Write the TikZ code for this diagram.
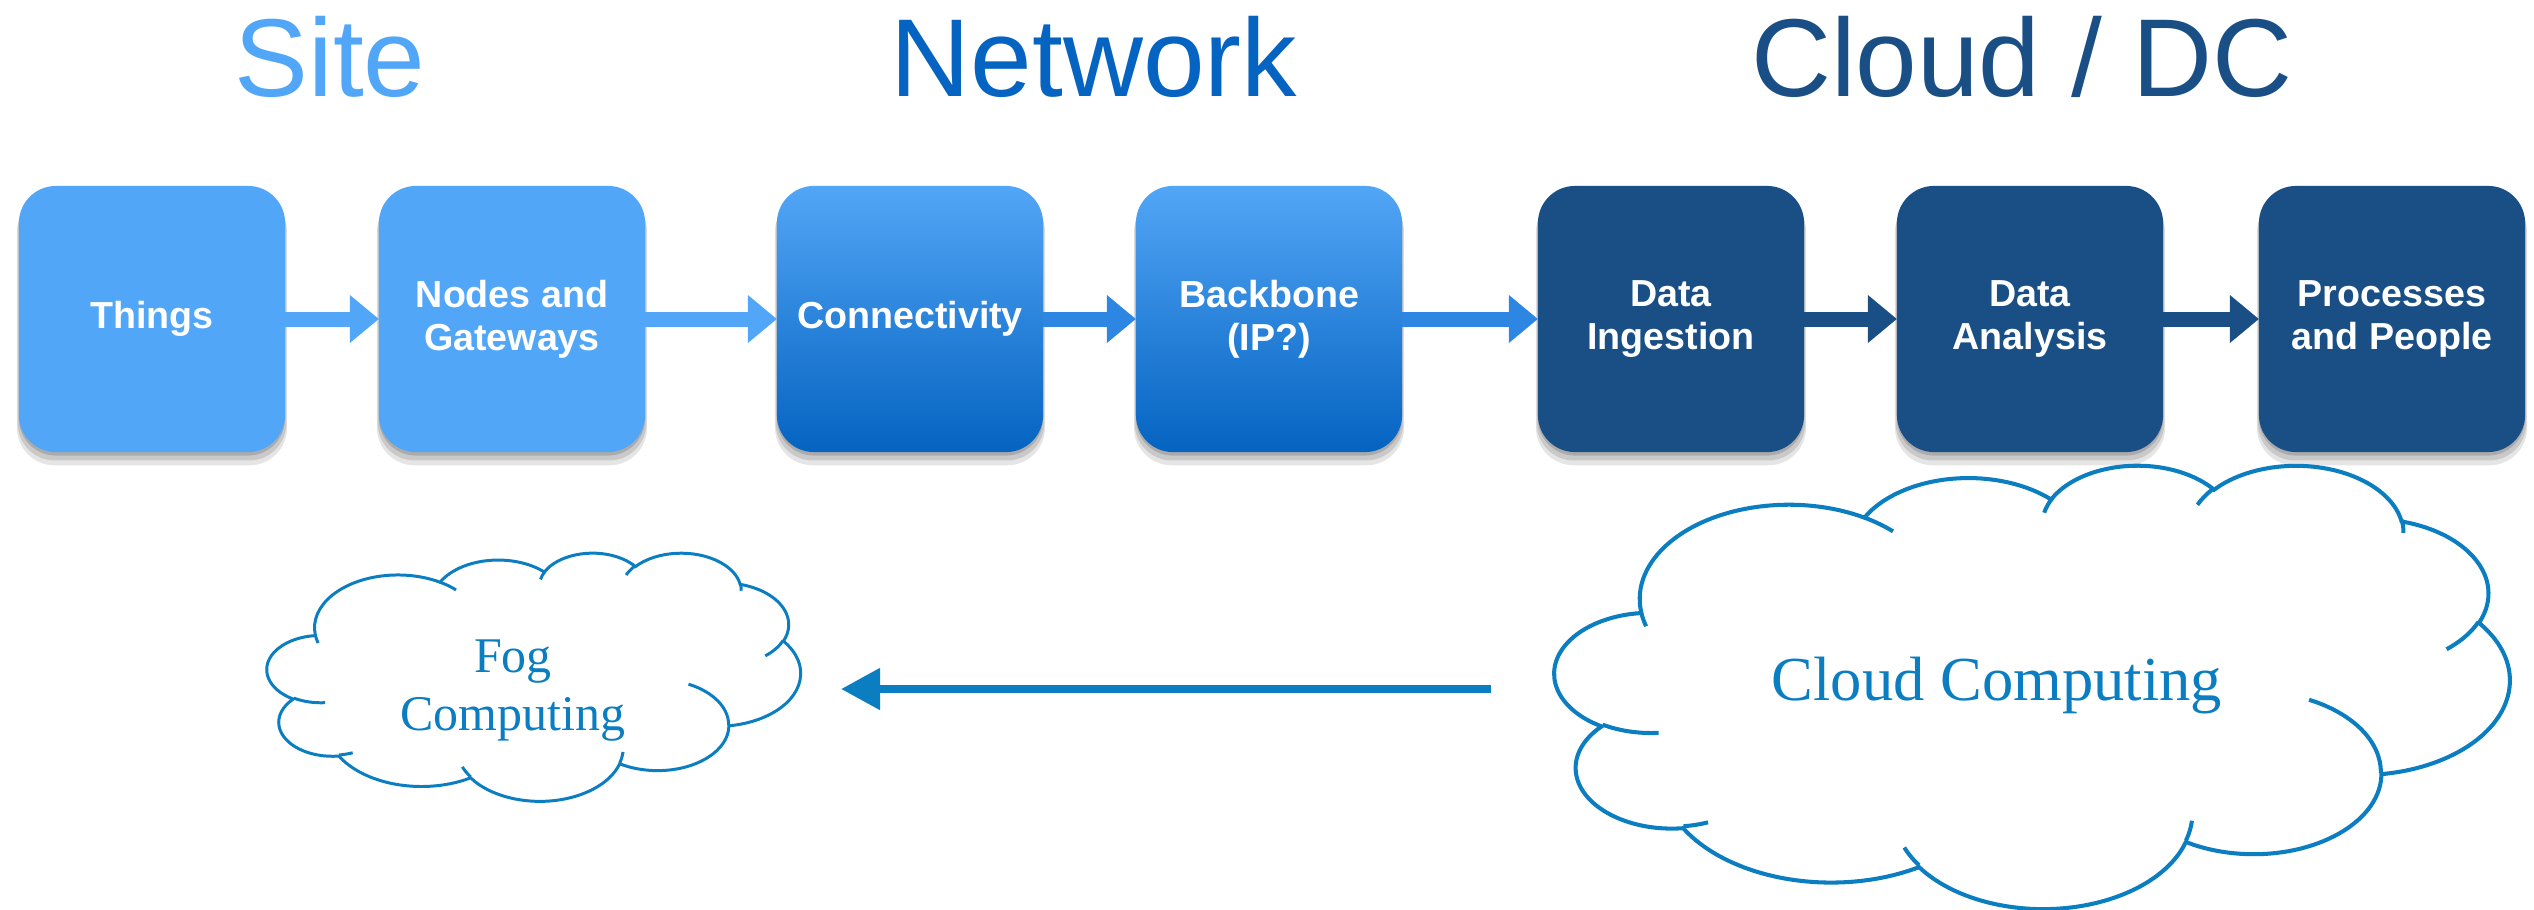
\documentclass[tikz,border=0pt]{standalone}
\usepackage{fontspec}
\setmainfont{Liberation Serif}
\newfontfamily\arialf{Liberation Sans}
\usetikzlibrary{arrows.meta,shadows}
\definecolor{siteblue}{HTML}{52A6F8}
\definecolor{netblue}{HTML}{0563C1}
\definecolor{gradtop}{HTML}{52A6F6}
\definecolor{dcblue}{HTML}{1A4F86}
\definecolor{midarrow}{HTML}{2C86E2}
\definecolor{cloudblue}{HTML}{0B7DC1}
\newcommand\cldarc[4]{%
  \pgfmathparse{atan2((#1)*sin(#3),(#2)*cos(#3))}\xdef\cldta{\pgfmathresult}%
  \pgfmathparse{atan2((#1)*sin((#3)+(#4)),(#2)*cos((#3)+(#4)))}\xdef\cldtb{\pgfmathresult}%
  \pgfmathparse{mod(\cldtb-\cldta+720,360)}\xdef\clddt{\pgfmathresult}%
}
\newcommand\cloudshape{%
  \draw (3.900,14.370)
    foreach \cw/\ch/\cs/\cd in {6.753/9.190/-190.4875/123.7805,
      5.333/7.267/-144.1024/89.9452, 4.365/5.945/-145.8079/99.7230,
      4.857/6.595/-130.9861/117.2417, 5.333/7.273/-78.7089/109.0269,
      6.775/9.220/-46.2673/130.2690, 5.785/7.867/0.6250/114.0333,
      6.752/9.215/22.4516/115.1726, 7.720/10.543/66.2426/75.7110,
      4.360/5.918/-274.9421/146.7356, 4.345/5.945/-246.8285/152.5189}
    {\pgfextra{\cldarc{\cw}{\ch}{\cs}{\cd}}
     arc[start angle=\cldta, delta angle=\clddt, x radius=\cw, y radius=\ch]} -- cycle;
  \foreach \cx/\cy/\cw/\ch/\cs/\cd in {4.693/26.177/4.345/5.945/86.7420/26.4295,
      6.928/34.899/4.360/5.918/73.6105/11.4475,
      16.478/39.090/6.752/9.215/137.6242/14.0811,
      28.827/34.751/6.752/9.215/6.4533/15.9984,
      34.129/22.954/5.785/7.867/-70.2924/70.9174,
      41.798/15.354/5.333/7.273/30.3180/27.7515,
      38.324/5.426/4.857/6.595/-13.7443/14.8589,
      29.078/3.952/4.857/6.595/-149.1815/18.1954,
      22.141/4.720/4.365/5.945/-163.4943/17.6864,
      14.000/5.192/6.753/9.190/-66.7070/12.3194,
      4.127/15.789/6.753/9.190/157.6544/11.8582}
  {\cldarc{\cw}{\ch}{\cs}{\cd}%
   \draw (\cx,\cy) arc[start angle=\cldta, delta angle=\clddt, x radius=\cw, y radius=\ch];}%
}
\tikzset{
  softshadow/.style={
    drop shadow={shadow xshift=0pt, shadow yshift=-0.11cm, shadow scale=1.015, opacity=0.10, fill=black},
    drop shadow={shadow xshift=0pt, shadow yshift=-0.07cm, shadow scale=1.01, opacity=0.12, fill=black},
    drop shadow={shadow xshift=0pt, shadow yshift=-0.035cm, opacity=0.15, fill=black}},
  stagebox/.style={rounded corners=0.37cm, minimum width=2.66cm, minimum height=2.66cm,
    inner sep=0pt, outer sep=0pt, text=white, align=center,
    font=\arialf\bfseries\fontsize{10.7}{12.2}\selectfont, softshadow},
  lightbox/.style={stagebox, fill=siteblue},
  gradbox/.style={stagebox, top color=gradtop, bottom color=netblue},
  darkbox/.style={stagebox, fill=dcblue},
  flow/.style={line width=0.15cm, -{Triangle[length=0.29cm, width=0.46cm]}},
  heading/.style={font=\arialf\fontsize{31.5}{36}\selectfont, anchor=base, inner sep=0pt},
  cloudline/.style={draw=cloudblue, line width=#1},
  cloudtext/.style={text=cloudblue, anchor=base, inner sep=0pt, align=center},
}
\begin{document}
\begin{tikzpicture}[x=0.01cm, y=-0.01cm]
\useasboundingbox (0,0) rectangle (2534,909);
% headings
\node[heading, text=siteblue] (site) at (330,97) {Site};
\node[heading, text=netblue] (network) at (1094,97) {Network};
\node[heading, text=dcblue] (dc) at (2022,97) {Cloud / DC};
% boxes
\node[lightbox] (things) at (152,319) {Things};
\node[lightbox] (nodes) at (512,319) {Nodes and\\Gateways};
\node[gradbox] (conn) at (910,319) {Connectivity};
\node[gradbox] (backbone) at (1269,319) {Backbone\\(IP?)};
\node[darkbox] (ingest) at (1671,319) {Data\\Ingestion};
\node[darkbox] (analysis) at (2030,319) {Data\\Analysis};
\node[darkbox] (people) at (2392,319) {Processes\\and People};
% flow arrows
\draw[flow, siteblue] (things.east) -- (nodes.west);
\draw[flow, siteblue] (nodes.east) -- (conn.west);
\draw[flow, midarrow] (conn.east) -- (backbone.west);
\draw[flow, midarrow] (backbone.east) -- (ingest.west);
\draw[flow, dcblue] (ingest.east) -- (analysis.west);
\draw[flow, dcblue] (analysis.east) -- (people.west);
% fog cloud
\begin{scope}[xshift=2.67cm, yshift=-5.52cm, x=0.123380cm, y=-0.057407cm, cloudline=0.85pt]
\cloudshape
\end{scope}
\node[cloudtext, font=\fontsize{14.2}{16.4}\selectfont] (fog) at (513,730) {Fog\\Computing};
% cloud computing cloud
\begin{scope}[xshift=15.54cm, yshift=-4.64cm, x=0.220833cm, y=-0.102546cm, cloudline=1.15pt]
\cloudshape
\end{scope}
\node[cloudtext, font=\fontsize{17.8}{21}\selectfont] (cc) at (1997,700) {Cloud Computing};
% bottom arrow
\coordinate (ccW) at (1491,689);
\coordinate (fogE) at (841,689);
\draw[draw=cloudblue, line width=0.08cm, -{Triangle[length=0.39cm, width=0.40cm]}] (ccW) -- (fogE);
\end{tikzpicture}
\end{document}
